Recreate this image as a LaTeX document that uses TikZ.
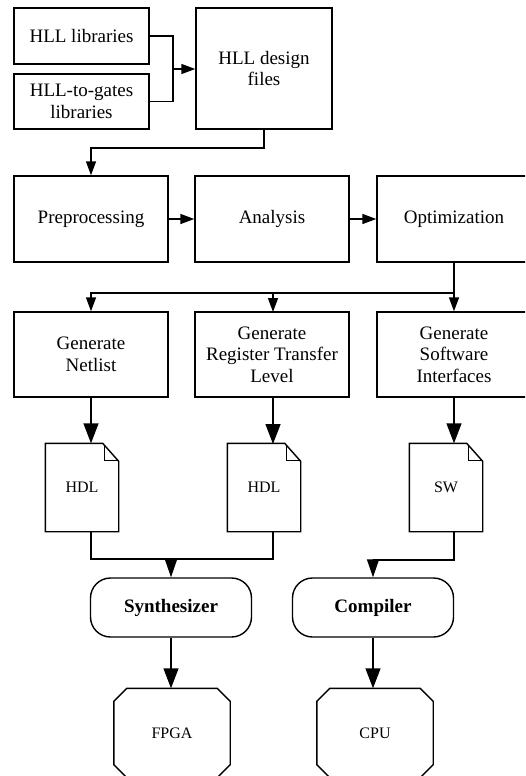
\documentclass[tikz,border=0pt]{standalone}
\usepackage{fontspec}
\setmainfont{Liberation Serif}
\usetikzlibrary{arrows.meta}
\newcommand\docoutline[1]{%
  \draw ([xshift=-0pt]#1.north west) -- ([xshift=-16pt]#1.north east) -- ([yshift=-18pt]#1.north east) -- (#1.south east) -- (#1.south west) -- cycle;
  \draw[line width=1pt] ([xshift=-14pt,yshift=-2pt]#1.north east) -- ([xshift=-14pt,yshift=-17pt]#1.north east) -- ([yshift=-17pt]#1.north east);}
\newcommand\octoutline[1]{%
  \draw ([xshift=13pt]#1.north west) -- ([xshift=-13pt]#1.north east) -- ([yshift=-13pt]#1.north east) -- ([yshift=13pt]#1.south east) -- ([xshift=-13pt]#1.south east) -- ([xshift=13pt]#1.south west) -- ([yshift=13pt]#1.south west) -- ([yshift=-13pt]#1.north west) -- cycle;}
\begin{document}
\begin{tikzpicture}[x=1pt,y=-1pt,line width=1.4pt,
  txt/.style={font=\fontsize{19}{21.7}\selectfont,align=center,inner sep=2pt},
  box/.style={txt,draw,rectangle,minimum width=154pt,minimum height=86pt},
  doc/.style={draw=none,rectangle,minimum width=72pt,minimum height=87pt,font=\fontsize{16}{19}\selectfont,inner sep=0pt},
  oct/.style={draw=none,rectangle,minimum width=115pt,minimum height=88pt,font=\fontsize{16}{19}\selectfont,inner sep=0pt},
  tool/.style={txt,draw,rectangle,rounded corners=20pt,minimum width=161pt,minimum height=59pt,font=\fontsize{19}{22}\selectfont\bfseries},
  sa/.style={-{Triangle[length=14pt,width=10pt]}},
  ma/.style={-{Triangle[length=18pt,width=12pt]}},
  ba/.style={-{Triangle[length=20pt,width=15pt]}}]
\clip (0,0) rectangle (525,776);
\fill[white] (0,0) rectangle (525,776);
% top
\node[box,minimum width=135pt,minimum height=56pt] (lib1) at (81.5,36) {HLL libraries};
\node[box,minimum width=135pt,minimum height=55pt] (lib2) at (81.5,101.5) {HLL-to-gates\\libraries};
\node[box,minimum width=136pt,minimum height=121pt] (des) at (264,68.5) {HLL design\\files};
\coordinate (j1) at (173,69);
\draw (lib1.east) -| (j1);
\draw (lib2.east) -| (j1);
\draw[sa] (j1) -- (des.west |- j1);
% row 2
\node[box] (pre) at (91,219) {Preprocessing};
\node[box] (ana) at (272,219) {Analysis};
\node[box] (opt) at (454,219) {Optimization};
\coordinate (j2) at (264,148);
\draw[sa] (des.south) -- (j2) -| (pre.north);
\draw[sa] (pre.east) -- (ana.west);
\draw[sa] (ana.east) -- (opt.west);
% row 3
\node[box,minimum height=85pt] (gen1) at (91,354.5) {Generate\\Netlist};
\node[box,minimum height=85pt] (gen2) at (272,354.5) {Generate\\Register Transfer\\Level};
\node[box,minimum height=85pt] (gen3) at (454,354.5) {Generate\\Software\\Interfaces};
\coordinate (j3) at (454,293);
\coordinate (j3b) at (273,293);
\draw (opt.south) -- (j3);
\draw[sa] (j3) -| (gen1.north);
\draw[sa] (j3b) -- (273,312);
\draw[sa] (j3) -- (gen3.north);
% docs
\node[doc] (d1) at (82,487.5) {HDL};
\node[doc] (d2) at (264,487.5) {HDL};
\node[doc] (d3) at (446,487.5) {SW};
\docoutline{d1}
\docoutline{d2}
\docoutline{d3}
\draw[ba] (gen1.south) -- (gen1.south |- d1.north);
\draw[ba] (273,397) -- (273,444);
\draw[ba] (gen3.south) -- (gen3.south |- d3.north);
% tools
\node[tool] (syn) at (171,607.5) {Synthesizer};
\node[tool] (comp) at (373,607.5) {Compiler};
\coordinate (j4) at (171,559);
\draw (gen1.south |- d1.south) |- (j4);
\draw (273,531) |- (j4);
\draw[ma] (j4) -- (syn.north);
\coordinate (j5) at (454,560);
\draw[ma] (gen3.south |- d3.south) -- (j5) -| (comp.north);
% targets
\node[oct] (fpga) at (172,733) {FPGA};
\node[oct] (cpu) at (375,733) {CPU};
\octoutline{fpga}
\octoutline{cpu}
\draw[ba] (syn.south) -- (syn.south |- fpga.north);
\draw[ba] (comp.south) -- (comp.south |- cpu.north);
\end{tikzpicture}
\end{document}
